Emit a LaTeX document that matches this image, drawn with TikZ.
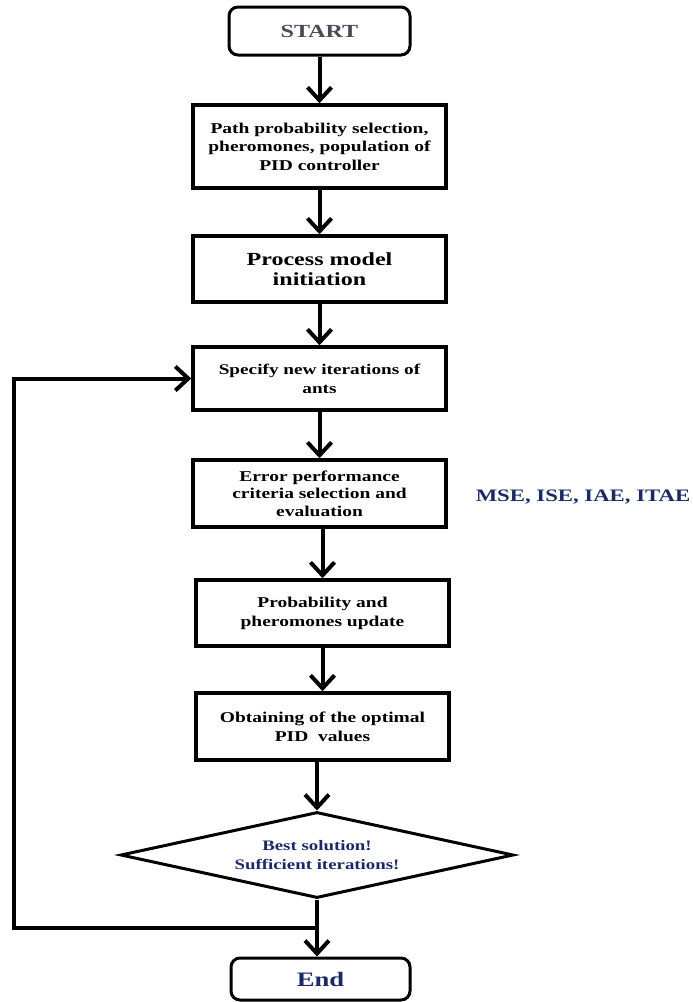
\documentclass[tikz,border=0pt]{standalone}
\usepackage{fontspec}
\setmainfont{Liberation Serif}
\newfontfamily\widefont[FakeStretch=1.3]{Liberation Serif}
\usetikzlibrary{arrows.meta,shapes.geometric}
\definecolor{navy}{HTML}{1B2A66}
\definecolor{startgray}{HTML}{4A4A58}
\newcommand{\fs}[2]{\widefont\bfseries\fontsize{#1}{#2}\selectfont}
\begin{document}
\begin{tikzpicture}[x=1pt,y=1pt,
  procbox/.style={draw,line width=3.5pt,minimum width=253pt,inner sep=0pt,align=center},
  termbox/.style={draw,line width=3pt,rounded corners=9pt,inner sep=0pt,align=center},
  arr/.style={line width=4pt,-{Straight Barb[length=13pt,width=24pt]}},
  ln/.style={line width=4pt}]
\useasboundingbox (0,0) rectangle (693,-1002);
\node[termbox,minimum width=181pt,minimum height=48pt,text=startgray,font=\fs{18.5}{20}] (start) at (319.5,-31) {START};
\node[procbox,minimum height=83pt,font=\fs{15}{18.5}] (b1) at (319.5,-146.5) {Path probability selection,\\pheromones, population of\\PID controller};
\node[procbox,minimum height=66pt,font=\fs{18.5}{20}] (b2) at (319.5,-269) {Process model\\initiation};
\node[procbox,minimum height=63pt,font=\fs{14.8}{19}] (b3) at (319.5,-378.5) {Specify new iterations of\\ants};
\node[procbox,minimum height=67pt,font=\fs{15}{17.5}] (b4) at (319.5,-493.5) {Error performance\\criteria selection and\\evaluation};
\node[text=navy,font=\fs{17.5}{20}] (crit) at (583,-497) {MSE, ISE, IAE, ITAE};
\node[procbox,minimum height=66pt,font=\fs{15}{19}] (b5) at (322.5,-613) {Probability and\\pheromones update};
\node[procbox,minimum height=67pt,font=\fs{15}{19}] (b6) at (322.5,-726.5) {Obtaining of the optimal\\PID\ \ values};
\node[draw,diamond,line width=3pt,inner sep=0pt,minimum width=393pt,minimum height=86pt,aspect=4.57,text=navy,align=center,font=\fs{14.5}{19}] (dia) at (317,-855) {Best solution!\\Sufficient iterations!};
\node[termbox,minimum width=179pt,minimum height=42pt,text=navy,font=\fs{20.5}{22}] (end) at (320.5,-979) {End};
\coordinate (j) at (317,-928);
\coordinate (lc) at (14,-928);
\draw[arr] (start) -- (b1);
\draw[arr] (b1) -- (b2);
\draw[arr] (b2) -- (b3);
\draw[arr] (b3) -- (b4);
\draw[arr] (b4.south -| b5.north) -- (b5.north);
\draw[arr] (b5) -- (b6);
\draw[arr] (b6.south -| dia.north) -- (dia.north);
\draw[arr] (dia.south) -- (dia.south |- end.north);
\draw[arr] (j) -- (lc) |- (b3.west);
\end{tikzpicture}
\end{document}
